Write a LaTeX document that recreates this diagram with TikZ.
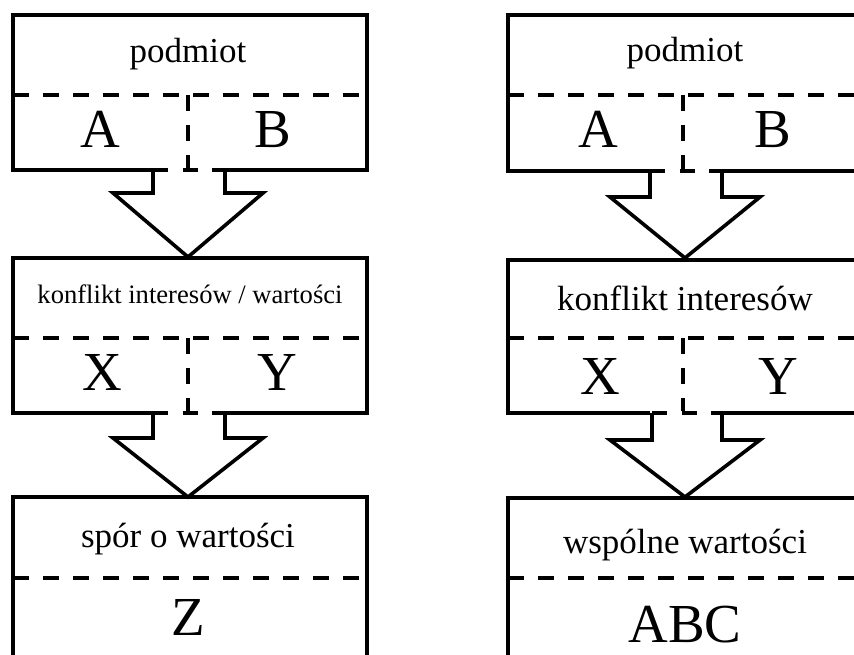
\documentclass[tikz,border=0pt]{standalone}
\usepackage{fontspec}
\setmainfont{Liberation Serif}
\tikzset{
  ln/.style={line width=3.6pt, line join=miter},
  dsh/.style={line width=3.6pt, dash pattern=on 16pt off 14pt},
  stemdash/.style={line width=3.6pt, dash pattern=on 15pt off 14.5pt},
  lbl/.style={anchor=base, inner sep=0pt, font=\fontsize{35}{40}\selectfont},
  big/.style={anchor=base, inner sep=0pt, font=\fontsize{55}{60}\selectfont},
  small/.style={anchor=base, inner sep=0pt, font=\fontsize{26.6}{30}\selectfont},
  blockarrow/.pic={
    \fill[white] (-35,-2) rectangle (37,25);
    \filldraw[ln, fill=white] (-35,0) -- (-35,#1) -- (-75,#1) -- (0,87) -- (75,#1) -- (37,#1) -- (37,0);
    \draw[stemdash] (-35,0) -- (37,0);
  },
}
\begin{document}
\begin{tikzpicture}[x=1pt,y=-1pt]
\clip (0,0) rectangle (854,655);
\fill[white] (0,0) rectangle (854,655);
% ---------- left diagram ----------
\begin{scope}
  \draw[ln] (13,15) rectangle (367,170);
  \draw[dsh] (13,95) -- (367,95);
  \draw[dsh] (188,95) -- (188,170);
  \draw[ln] (13,258) rectangle (367,413);
  \draw[dsh] (13,338) -- (367,338);
  \draw[dsh] (188,338) -- (188,413);
  \draw[ln] (13,497) rectangle (367,720);
  \draw[dsh] (13,578) -- (367,578);
  \pic at (188,170) {blockarrow={23}};
  \begin{scope}[shift={(188,413)}]
    \fill[white] (-35,-2) rectangle (37,27);
    \filldraw[ln, fill=white] (-35,0) -- (-35,25) -- (-75,25) -- (0,84) -- (75,25) -- (37,25) -- (37,0);
    \draw[stemdash] (-35,0) -- (37,0);
  \end{scope}
  \node[lbl] (l1) at (188,63) {podmiot};
  \node[big] (lA) at (100,148) {A};
  \node[big] (lB) at (273,148) {B};
  \node[small] (l2) at (190,303) {konflikt interesów / wartości};
  \node[big] (lX) at (102,390) {X};
  \node[big] (lY) at (277,390) {Y};
  \node[lbl] (l3) at (188,547) {spór o wartości};
  \node[big] (lZ) at (188,635) {Z};
\end{scope}
% ---------- right diagram ----------
\begin{scope}
  \draw[ln] (508,15) rectangle (862,171);
  \draw[dsh] (508,95) -- (862,95);
  \draw[dsh] (683,95) -- (683,171);
  \draw[ln] (508,260) rectangle (862,413);
  \draw[dsh] (508,338) -- (862,338);
  \draw[dsh] (683,338) -- (683,413);
  \draw[ln] (508,498) rectangle (862,720);
  \draw[dsh] (508,578) -- (862,578);
  \pic at (685,171) {blockarrow={26}};
  \begin{scope}[shift={(685,413)}]
    \fill[white] (-35,-2) rectangle (37,29);
    \filldraw[ln, fill=white] (-33,0) -- (-33,27) -- (-75,27) -- (0,84) -- (75,27) -- (37,27) -- (37,0);
    \draw[stemdash] (-33,0) -- (37,0);
  \end{scope}
  \node[lbl] (r1) at (685,62) {podmiot};
  \node[big] (rA) at (598,148) {A};
  \node[big] (rB) at (773,148) {B};
  \node[lbl] (r2) at (685,310) {konflikt interesów};
  \node[big] (rX) at (600,394) {X};
  \node[big] (rY) at (778,394) {Y};
  \node[lbl] (r3) at (685,553) {wspólne wartości};
  \node[big] (rZ) at (685,642) {ABC};
\end{scope}
\end{tikzpicture}
\end{document}
